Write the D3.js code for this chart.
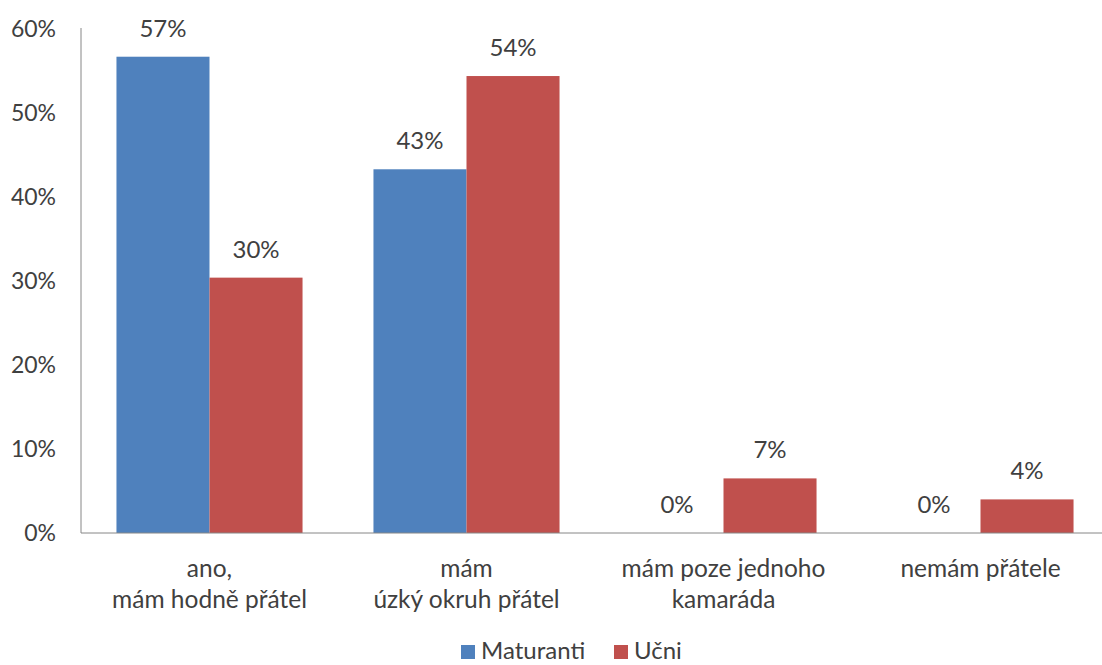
<!DOCTYPE html>
<html>
<head>
<meta charset="utf-8">
<script src="https://cdn.jsdelivr.net/npm/d3@7"></script>
<style>
  body { margin: 0; background: #fff; }
  text { font-family: Lato, "Open Sans", sans-serif; fill: #404040; }
</style>
</head>
<body>
<svg id="graf" width="1102" height="665"></svg>
<script>
// data
const kategorie = [["ano,", "mám hodně přátel"], ["mám", "úzký okruh přátel"], ["mám poze jednoho", "kamaráda"], ["nemám přátele"]];
const serie = ["Maturanti", "Učni"];
const maturanti = [56.7, 43.3, 0, 0];
const ucni = [30.4, 54.4, 6.5, 4.0];
const yTicks = [0, 10, 20, 30, 40, 50, 60];
const barvy = ["#4F81BD", "#C0504D"];

const svg = d3.select("#graf");
const levo = 81, pravo = 1109, nahore = 29, dole = 533;

const x = d3.scaleBand()
    .domain(d3.range(kategorie.length))
    .range([levo, pravo])
    .paddingInner(0.276)
    .paddingOuter(0.138);

const xs = d3.scaleBand()
    .domain(serie)
    .range([0, x.bandwidth()]);

const y = d3.scaleLinear()
    .domain([0, 60])
    .range([dole, nahore]);

// osa y - popisky
svg.append("g")
    .selectAll("text")
    .data(yTicks)
    .enter().append("text")
    .attr("x", 56)
    .attr("y", d => y(d))
    .attr("dy", "0.35em")
    .attr("text-anchor", "end")
    .style("font-size", "23px")
    .text(d => d + "%");

// sloupce
const data = kategorie.map((k, i) => [
    { s: serie[0], v: maturanti[i], c: barvy[0] },
    { s: serie[1], v: ucni[i], c: barvy[1] }
]);

const groups = svg.selectAll("g.grp")
    .data(data)
    .enter().append("g")
    .attr("class", "grp")
    .attr("transform", (d, i) => `translate(${x(i)},0)`);

groups.selectAll("rect")
    .data(d => d)
    .enter().append("rect")
    .attr("x", d => xs(d.s))
    .attr("y", d => y(d.v))
    .attr("width", xs.bandwidth())
    .attr("height", d => dole - y(d.v))
    .attr("fill", d => d.c);

groups.selectAll("text")
    .data(d => d)
    .enter().append("text")
    .attr("x", d => xs(d.s) + xs.bandwidth() / 2)
    .attr("y", d => y(d.v) - 20)
    .attr("text-anchor", "middle")
    .style("font-size", "24px")
    .text(d => Math.round(d.v) + "%");

// osy
svg.append("line")
    .attr("x1", levo).attr("x2", levo)
    .attr("y1", nahore - 1).attr("y2", dole)
    .attr("stroke", "#868686");
svg.append("line")
    .attr("x1", levo).attr("x2", 1102)
    .attr("y1", dole).attr("y2", dole)
    .attr("stroke", "#868686");

// popisky kategorii
svg.append("g")
    .selectAll("text")
    .data(kategorie)
    .enter().append("text")
    .attr("text-anchor", "middle")
    .attr("transform", (d, i) => `translate(${x(i) + x.bandwidth() / 2},577)`)
    .style("font-size", "24.5px")
    .selectAll("tspan")
    .data(d => d)
    .enter().append("tspan")
    .attr("x", 0)
    .attr("y", (d, j) => j * 31)
    .text(d => d);

// legenda
const leg = svg.append("g");
const legX = [461, 614];
serie.forEach((s, i) => {
    leg.append("rect")
        .attr("x", legX[i]).attr("y", 645)
        .attr("width", 14).attr("height", 14)
        .attr("fill", barvy[i]);
    leg.append("text")
        .attr("x", legX[i] + 20).attr("y", 659)
        .style("font-size", "24px")
        .text(s);
});
</script>
</body>
</html>
